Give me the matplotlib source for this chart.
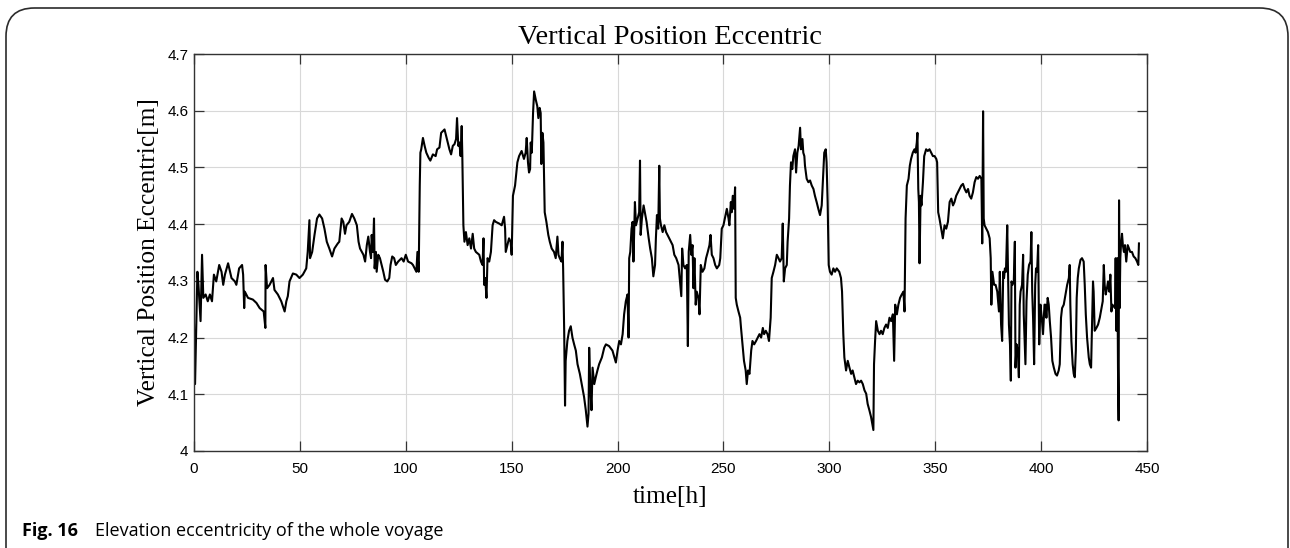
import matplotlib
matplotlib.use("Agg")
import matplotlib.pyplot as plt
from matplotlib.patches import FancyBboxPatch

# ---- data (time in hours, eccentricity in metres) ----
time_h = [
    0, 0.5, 1.6, 2.1, 3.1, 3.8, 4.4, 5.5, 6.5, 7.5, 8.5, 9.4, 10.5, 11.9, 13.0, 13.8, 14.6, 16.1, 17.7, 19.3,
    20.0, 21.3, 22.7, 23.2, 23.7, 24.0, 25.5, 27.8, 29.5, 31.0, 32.9, 33.7, 33.8, 34.5, 35.7, 37.3, 38.0, 39.6,
    41.2, 42.8, 43.6, 44.3, 45.1, 46.7, 48.3, 49.8, 51.4, 53.0, 53.7, 54.5, 54.8, 55.8, 56.9, 58.1, 59.2, 60.5,
    61.6, 62.7, 63.9, 65.2, 66.3, 67.9, 68.6, 69.7, 70.5, 71.3, 72.0, 73.3, 74.6, 75.7,
    76.9, 77.7, 78.4, 80.0, 80.8, 81.6, 82.3, 83.1, 83.6, 83.9, 84.5, 85.0, 85.3, 85.9, 86.25, 87.0, 87.8, 88.6,
    89.4, 90.2, 91.25, 92.2, 92.8, 93.6, 94.5, 95.3, 96.4, 98.0, 99.0, 100.0, 101.1, 102.7, 103.4, 104.2, 105.0,
    105.5, 106.1, 106.6, 106.9, 107.3, 108.1, 108.9, 109.7, 110.8, 111.6, 112.8, 114.1, 114.8, 115.9, 116.7,
    118.3, 119.1, 119.8, 120.6, 121.4, 122.2, 123.0, 123.75, 124.2, 124.8, 125.3, 125.9, 126.4, 126.7, 127.2,
    127.7, 128.4, 129.2, 130.0, 130.8, 131.6, 132.3, 133.1, 134.7, 135.5, 136.25, 136.7, 137.0, 137.5, 138.1,
    138.6, 139.4, 140.2, 141.0, 141.7, 142.5, 144.1, 145.3, 146.4, 146.9, 147.2, 148.0, 148.75, 149.5, 150.0,
    150.6, 151.6, 152.7, 153.5, 154.7, 155.8, 156.6, 157.1, 157.7, 158.2, 158.7, 159.0, 159.5, 160.1, 160.6,
    161.4, 162.1, 162.6, 163.2, 163.7, 164.0, 164.5, 165.0, 165.6, 166.4, 167.3, 168.0, 168.9, 170.0, 170.8,
    171.6, 172.1, 172.7, 173.5, 174.0, 174.3, 174.8, 175.2, 175.5, 176.3, 177.1, 177.9, 178.7, 179.5, 180.3,
    181.1, 182.2, 183.1, 184.2, 185.0, 185.8, 186.3, 186.6, 187.1, 187.7, 188.2, 189.0, 189.7, 190.5, 191.3,
    192.6, 193.7, 194.5, 196.0, 197.6, 199.2, 200.0, 200.8, 201.6, 202.4, 203.1, 203.9, 204.7, 205.2, 205.5,
    206.0, 206.6, 207.1, 207.5, 208.2, 208.7, 209.5, 210.2, 210.6, 210.9, 211.5, 212.3, 213.1, 213.7, 214.7,
    215.4, 216.2, 216.9, 217.7, 218.1, 218.6, 219.2, 219.7, 220.0, 220.5, 221.3, 222.1, 222.9, 223.6, 224.4,
    225.2, 226.0, 226.8,
    227.7, 228.8, 229.6, 230.1, 230.5, 231.1, 231.9, 232.7, 233.2, 233.6, 234.3, 234.8, 235.4, 235.85, 236.3,
    236.9, 237.4, 238.2, 238.7, 239.3, 240.1, 241.0, 241.8, 242.6, 243.4, 243.9, 244.5, 245.3, 246.1, 246.9,
    248.0, 248.5, 249.2, 250.0, 250.8, 251.6, 252.4, 252.8, 253.5, 253.9, 254.4, 255.0, 255.5, 255.8, 256.3,
    257.1, 257.9, 258.3, 259.0, 259.7, 260.5, 261.0, 261.6, 262.3, 263.1, 263.7, 264.5, 265.4, 266.2, 267.0,
    267.8, 268.6, 269.2, 270.0, 270.8, 271.5, 272.3, 272.8, 273.6, 274.4, 275.2, 276.0, 276.7, 277.5, 278.0,
    278.5, 279.1, 279.9, 280.3, 281.0, 281.4, 281.9, 282.5, 283.0, 283.8, 284.3, 284.9, 285.5, 286.2, 286.6,
    287.3, 287.7, 288.2, 288.5, 289.3, 290.1, 290.9, 291.7, 292.5, 293.2, 294.0, 294.8, 295.6, 296.4, 297.2,
    297.6, 298.3, 298.7, 299.2, 299.7, 300.3, 301.1, 301.9,
    302.7, 303.5, 304.7, 305.5, 306.0, 306.6, 307.1, 307.9, 308.7, 309.5, 310.3, 311.0, 311.8, 312.6, 313.4,
    314.2, 315.0, 315.8, 316.6, 317.4, 318.1, 318.9, 319.7, 320.5, 320.8, 321.1, 321.6, 322.1, 322.9, 323.7,
    324.4, 325.2, 326.0, 326.8, 327.6, 328.4, 329.2, 330.0, 330.6, 331.1, 331.9, 332.6, 333.4, 334.2, 335.0,
    335.5, 336.0, 336.6, 337.4, 338.0, 338.6, 339.4, 340.2, 340.7, 341.3, 341.6, 342.0, 342.3, 342.6, 343.1,
    343.5, 344.2, 344.8, 345.7, 346.5, 347.3, 348.1, 348.9, 349.7, 350.5, 350.9, 351.4, 352.0, 352.8, 353.6,
    354.4, 355.2, 356.0, 356.8, 357.6, 358.4, 359.1, 359.9, 360.7, 361.5, 362.3, 363.1, 363.9, 364.7, 365.5,
    366.2, 367.0, 367.8, 368.6, 369.4, 370.2, 371.0, 371.8, 372.2, 372.6, 372.9, 373.3, 374.1, 374.9, 375.7,
    376.2, 376.5, 377.0, 377.8,
    378.5, 379.3, 380.1, 380.5, 381.1, 381.6, 382.1, 382.5, 382.9, 383.4, 384.0, 384.3, 384.8, 385.3, 385.7,
    386.0, 386.5, 387.1, 387.6, 387.9, 388.4, 389.0, 389.5, 389.9, 390.3, 391.0, 391.5, 391.8, 392.3, 392.6,
    393.1, 393.7, 394.3, 395.0, 395.4, 395.8, 396.2, 396.7, 397.2, 397.6, 398.1, 398.6, 399.1, 399.7, 400.3,
    400.9, 401.6, 402.0, 402.5, 403.1, 403.6, 404.1, 404.7, 405.3, 406.0, 406.8, 407.5, 408.3, 408.8, 409.4,
    409.9, 410.7, 411.5, 412.3, 413.1, 413.5, 413.8, 414.3, 414.9, 415.4, 415.9, 416.4, 416.8, 417.3, 417.8,
    418.6, 419.3, 420.1, 420.6, 421.1, 421.7, 422.5, 423.0, 423.6, 424.1, 424.5, 424.8, 425.3, 426.1, 426.9,
    427.7, 428.5, 429.1, 429.6, 430.0, 430.5, 431.1, 431.6, 432.2, 432.7, 433.2, 433.6, 434.3, 434.9, 435.2,
    435.5, 436.0, 436.3, 436.6, 436.8, 437.1, 437.4, 437.7, 438.2, 438.6, 439.1, 439.6, 440.2, 440.9, 441.5,
    442.1, 442.9, 443.7, 444.5, 445.3, 445.9, 446.2,
]

eccentric_m = [
    4.223, 4.118, 4.316, 4.293, 4.229, 4.346, 4.270, 4.276, 4.264, 4.276, 4.264, 4.311, 4.299, 4.328, 4.316, 4.293, 4.311, 4.331, 4.305, 4.299,
    4.293, 4.322, 4.328, 4.311, 4.252, 4.281, 4.270, 4.267, 4.261, 4.252, 4.246, 4.217, 4.328, 4.287, 4.293, 4.305, 4.284, 4.276,
    4.264, 4.246, 4.264, 4.273, 4.299, 4.313, 4.311, 4.305, 4.311, 4.322, 4.351, 4.407, 4.340, 4.351, 4.381, 4.410, 4.417, 4.410,
    4.392, 4.369, 4.357, 4.343, 4.357, 4.366, 4.369, 4.410, 4.404, 4.383, 4.398, 4.404, 4.418, 4.410,
    4.398, 4.369, 4.357, 4.346, 4.334, 4.363, 4.378, 4.351, 4.340, 4.381, 4.351, 4.410, 4.322, 4.351, 4.316, 4.346, 4.340, 4.328,
    4.316, 4.302, 4.299, 4.305, 4.328, 4.343, 4.340, 4.328, 4.334, 4.340, 4.334, 4.346, 4.334, 4.331, 4.328, 4.322, 4.316,
    4.351, 4.316, 4.468, 4.526, 4.532, 4.552, 4.538, 4.526, 4.517, 4.512, 4.523, 4.520, 4.532, 4.535, 4.561,
    4.567, 4.555, 4.544, 4.532, 4.523, 4.538, 4.541, 4.550, 4.587, 4.538, 4.544, 4.520, 4.573, 4.520, 4.398,
    4.369, 4.386, 4.363, 4.375, 4.357, 4.383, 4.357, 4.351, 4.346, 4.334, 4.328, 4.375, 4.293, 4.305, 4.270,
    4.340, 4.334, 4.351, 4.398, 4.407, 4.404, 4.401, 4.398, 4.413, 4.392, 4.351, 4.363, 4.375, 4.369, 4.346,
    4.450, 4.468, 4.509, 4.520, 4.529, 4.515, 4.526, 4.552, 4.509, 4.491, 4.497, 4.544, 4.526, 4.596, 4.634,
    4.619, 4.608, 4.587, 4.605, 4.596, 4.506, 4.561, 4.544, 4.421, 4.404, 4.381, 4.369, 4.357, 4.351, 4.340,
    4.378, 4.346, 4.340, 4.334, 4.369, 4.322, 4.212, 4.080, 4.159, 4.194, 4.212, 4.220, 4.200, 4.188, 4.177,
    4.153, 4.136, 4.118, 4.095, 4.072, 4.043, 4.066, 4.182, 4.118, 4.072, 4.147, 4.118, 4.130, 4.142, 4.153,
    4.165, 4.182, 4.188, 4.185, 4.177, 4.156, 4.177, 4.194, 4.188, 4.206, 4.241, 4.264, 4.276, 4.200, 4.340,
    4.351, 4.392, 4.404, 4.334, 4.439, 4.398, 4.410, 4.421, 4.512, 4.381, 4.410, 4.433, 4.416, 4.404, 4.375,
    4.357, 4.340, 4.308, 4.328, 4.375, 4.416, 4.392, 4.503, 4.410, 4.398, 4.386, 4.398, 4.386, 4.381, 4.375,
    4.369, 4.363, 4.346,
    4.340, 4.328, 4.293, 4.273, 4.357, 4.328, 4.322, 4.328, 4.185, 4.351, 4.381, 4.346, 4.363, 4.287, 4.340,
    4.258, 4.281, 4.270, 4.241, 4.328, 4.316, 4.322, 4.340, 4.351, 4.363, 4.381, 4.346, 4.340, 4.328, 4.322,
    4.328, 4.340, 4.392, 4.398, 4.413, 4.427, 4.410, 4.398, 4.439, 4.421, 4.450, 4.427, 4.465, 4.270, 4.258,
    4.246, 4.235, 4.217, 4.188, 4.159, 4.142, 4.118, 4.142, 4.136, 4.177, 4.194, 4.188, 4.194, 4.200, 4.206,
    4.200, 4.217, 4.206, 4.212, 4.206, 4.194, 4.235, 4.305, 4.316, 4.328, 4.346, 4.340, 4.334, 4.340, 4.401,
    4.299, 4.322, 4.328, 4.369, 4.410, 4.468, 4.509, 4.497, 4.520, 4.532, 4.491, 4.526, 4.538, 4.570, 4.532,
    4.550, 4.526, 4.520, 4.503, 4.480, 4.474, 4.477, 4.468, 4.462, 4.450, 4.439, 4.427, 4.416, 4.433, 4.497,
    4.526, 4.532, 4.509, 4.439, 4.328, 4.316, 4.311, 4.322,
    4.316, 4.322, 4.316, 4.305, 4.281, 4.206, 4.165, 4.142, 4.159, 4.147, 4.136, 4.142, 4.130, 4.118, 4.124,
    4.121, 4.124, 4.118, 4.107, 4.101, 4.083, 4.072, 4.060, 4.043, 4.037, 4.153, 4.194, 4.229, 4.212, 4.206,
    4.212, 4.206, 4.217, 4.223, 4.217, 4.235, 4.229, 4.241, 4.159, 4.258, 4.241, 4.258, 4.270, 4.276, 4.281,
    4.246, 4.410, 4.468, 4.480, 4.503, 4.515, 4.526, 4.532, 4.526, 4.544, 4.561, 4.462, 4.439, 4.331, 4.450,
    4.433, 4.474, 4.520, 4.532, 4.529, 4.532, 4.526, 4.520, 4.520, 4.515, 4.509, 4.421, 4.410, 4.392, 4.375,
    4.398, 4.392, 4.404, 4.439, 4.445, 4.433, 4.439, 4.450, 4.456, 4.462, 4.468, 4.471, 4.462, 4.456, 4.462,
    4.450, 4.445, 4.456, 4.474, 4.483, 4.480, 4.485, 4.480, 4.366, 4.599, 4.410, 4.398, 4.392, 4.386, 4.375,
    4.340, 4.258, 4.316, 4.293,
    4.293, 4.281, 4.246, 4.316, 4.223, 4.194, 4.316, 4.305, 4.322, 4.316, 4.398, 4.328, 4.223, 4.188, 4.124,
    4.299, 4.293, 4.299, 4.369, 4.147, 4.188, 4.177, 4.130, 4.258, 4.281, 4.293, 4.346, 4.241, 4.188, 4.153,
    4.264, 4.311, 4.328, 4.334, 4.386, 4.281, 4.235, 4.153, 4.293, 4.322, 4.316, 4.363, 4.188, 4.258, 4.235,
    4.206, 4.258, 4.258, 4.235, 4.270, 4.258, 4.229, 4.200, 4.159, 4.147, 4.136, 4.133, 4.142, 4.153, 4.235,
    4.252, 4.258, 4.276, 4.293, 4.305, 4.328, 4.258, 4.194, 4.153, 4.136, 4.130, 4.177, 4.270, 4.305, 4.322,
    4.337, 4.340, 4.334, 4.293, 4.241, 4.200, 4.165, 4.153, 4.147, 4.235, 4.299, 4.281, 4.212, 4.217, 4.223,
    4.235, 4.252, 4.264, 4.328, 4.293, 4.276, 4.287, 4.299, 4.281, 4.311, 4.246, 4.258, 4.255, 4.252, 4.340,
    4.212, 4.340, 4.147, 4.054, 4.442, 4.252, 4.340, 4.363, 4.383, 4.363, 4.351, 4.363, 4.334, 4.363, 4.357,
    4.351, 4.351, 4.343, 4.340, 4.334, 4.328, 4.366,
]

x_ticks = [0, 50, 100, 150, 200, 250, 300, 350, 400, 450]
y_ticks = [4.0, 4.1, 4.2, 4.3, 4.4, 4.5, 4.6, 4.7]
y_ticklabels = ["4", "4.1", "4.2", "4.3", "4.4", "4.5", "4.6", "4.7"]

title_text = "Vertical Position Eccentric"
xlabel_text = "time[h]"
ylabel_text = "Vertical Position Eccentric[m]"

# ---- figure ----
W, H = 1290, 548
fig = plt.figure(figsize=(W / 100, H / 100), dpi=100)
fig.patch.set_facecolor("white")

# rounded frame (open at the bottom, as in the cropped reference)
frame = FancyBboxPatch((6 / W, -0.2), (1288 - 6) / W, 1.2 - 8 / H,
                       boxstyle="round,pad=0,rounding_size=0.022",
                       transform=fig.transFigure, fill=False,
                       edgecolor="#2b2b2b", linewidth=1.2, mutation_aspect=W / H)
fig.patches.append(frame)

ax = fig.add_axes([194 / W, 1 - 451 / H, (1147 - 194) / W, (451 - 54) / H])
ax.plot(time_h, eccentric_m, color="black", linewidth=1.5)

ax.set_xlim(0, 450)
ax.set_ylim(4.0, 4.7)
ax.set_xticks(x_ticks)
ax.set_yticks(y_ticks)
ax.set_yticklabels(y_ticklabels)

serif = ["Liberation Serif", "DejaVu Serif"]
sans = ["Liberation Sans", "DejaVu Sans"]

ax.tick_params(axis="both", direction="in", length=7, width=0.9, color="#333333",
               top=True, right=True, labelsize=11)
ax.tick_params(axis="x", pad=8)
ax.tick_params(axis="y", pad=4)
for lab in ax.get_xticklabels() + ax.get_yticklabels():
    lab.set_fontfamily(sans)

for s in ax.spines.values():
    s.set_color("#333333")
    s.set_linewidth(1.0)

ax.grid(True, color="#d8d8d8", linewidth=0.8)
ax.set_axisbelow(True)

ax.set_title(title_text, fontfamily=serif, fontsize=20.5, pad=7)
ax.set_xlabel(xlabel_text, fontfamily=serif, fontsize=18.3, va="center")
ax.set_ylabel(ylabel_text, fontfamily=serif, fontsize=18.3, va="center")
ax.xaxis.set_label_coords(0.5, (451 - 497) / (451 - 54))
ax.yaxis.set_label_coords((149 - 194) / (1147 - 194), 0.5)

# caption
cap_font = ["Open Sans", "DejaVu Sans"]
fig.text(22 / W, 1 - 531 / H, "Fig. 16", fontfamily=cap_font,
         fontweight="bold", fontsize=13, va="center", ha="left")
fig.text(95 / W, 1 - 531 / H, "Elevation eccentricity of the whole voyage",
         fontfamily=cap_font, fontsize=13, va="center", ha="left")

fig.savefig("out.png", dpi=100, facecolor="white")
